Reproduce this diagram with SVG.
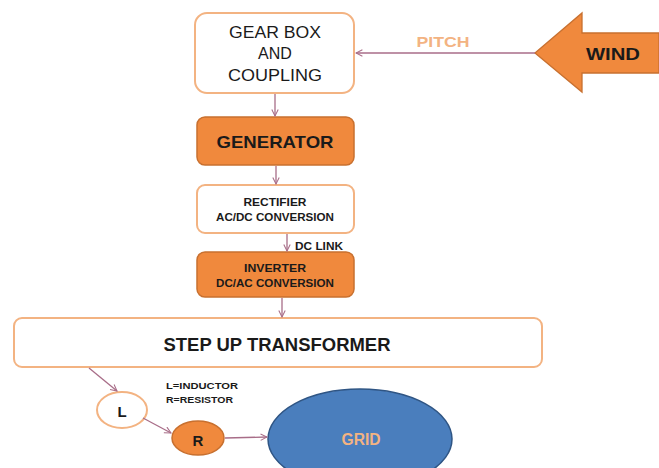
<svg xmlns="http://www.w3.org/2000/svg" width="659" height="468" viewBox="0 0 659 468">
<defs>
<marker id="arr" viewBox="0 0 10 10" refX="9" refY="5" markerWidth="8" markerHeight="8" orient="auto" markerUnits="userSpaceOnUse">
<path d="M1,1 L9,5 L1,9" fill="none" stroke="#a86d88" stroke-width="1.3"/>
</marker>
<style>
.wbox{fill:#ffffff;stroke:#f3b382;stroke-width:2}
.obox{fill:#f0893d;stroke:#c8702f;stroke-width:1.5}
.t{font-family:"Liberation Sans",Arial,sans-serif;fill:#1a1a1a;text-anchor:middle;dominant-baseline:central}
.b{font-weight:bold}
.con line{stroke:#a86d88;stroke-width:1.3;marker-end:url(#arr)}
</style>
</defs>
<rect width="659" height="468" fill="#ffffff"/>

<g id="wind">
<path d="M535,53 L582,13 L582,33 L659,33 L659,73 L582,73 L582,92 Z" fill="#f0893d" stroke="#c8702f" stroke-width="1.3"/>
<text class="t b" x="613" y="54" font-size="16" textLength="54" lengthAdjust="spacingAndGlyphs">WIND</text>
</g>

<g id="gearbox">
<rect class="wbox" x="195" y="13" width="159" height="80" rx="12"/>
<text class="t" x="275" y="32" font-size="16" textLength="92" lengthAdjust="spacingAndGlyphs">GEAR BOX</text>
<text class="t" x="275" y="53" font-size="16">AND</text>
<text class="t" x="275" y="75" font-size="16" textLength="94" lengthAdjust="spacingAndGlyphs">COUPLING</text>
</g>

<g id="generator">
<rect class="obox" x="197" y="117" width="157" height="48" rx="8"/>
<text class="t b" x="275" y="142" font-size="17" textLength="117" lengthAdjust="spacingAndGlyphs">GENERATOR</text>
</g>

<g id="rectifier">
<rect class="wbox" x="197" y="185" width="157" height="48" rx="8"/>
<text class="t b" x="275" y="202" font-size="11" textLength="63" lengthAdjust="spacingAndGlyphs">RECTIFIER</text>
<text class="t b" x="275" y="217" font-size="11.5" textLength="118" lengthAdjust="spacingAndGlyphs">AC/DC CONVERSION</text>
</g>

<g id="inverter">
<rect class="obox" x="197" y="252" width="157" height="45" rx="8"/>
<text class="t b" x="275" y="268" font-size="11" textLength="62" lengthAdjust="spacingAndGlyphs">INVERTER</text>
<text class="t b" x="275" y="283" font-size="11.5" textLength="118" lengthAdjust="spacingAndGlyphs">DC/AC CONVERSION</text>
</g>

<g id="transformer">
<rect class="wbox" x="14" y="318" width="528" height="49" rx="8"/>
<text class="t b" x="277" y="345" font-size="18" textLength="227" lengthAdjust="spacingAndGlyphs">STEP UP TRANSFORMER</text>
</g>

<g id="inductor">
<ellipse cx="122" cy="410" rx="25" ry="18" fill="#ffffff" stroke="#f3b382" stroke-width="2"/>
<text class="t b" x="122" y="411" font-size="15">L</text>
</g>

<g id="resistor">
<ellipse cx="198" cy="438" rx="26" ry="17" fill="#f0893d" stroke="#c8702f" stroke-width="1.5"/>
<text class="t b" x="198" y="440" font-size="15">R</text>
</g>

<g id="grid">
<ellipse cx="360" cy="439" rx="92" ry="50" fill="#4a7ebd" stroke="#2f5584" stroke-width="1.5"/>
<text class="t b" x="361" y="439" font-size="16" fill="#f3b382" style="fill:#f3b382" textLength="39" lengthAdjust="spacingAndGlyphs">GRID</text>
</g>

<g id="labels">
<text class="t b" x="443" y="42" font-size="14" style="fill:#f3b382" textLength="53" lengthAdjust="spacingAndGlyphs">PITCH</text>
<text class="t b" x="319" y="246" font-size="10" textLength="48" lengthAdjust="spacingAndGlyphs">DC LINK</text>
<text class="t b" x="166" y="385" font-size="9.5" style="text-anchor:start" textLength="72" lengthAdjust="spacingAndGlyphs">L=INDUCTOR</text>
<text class="t b" x="166" y="399" font-size="9.5" style="text-anchor:start" textLength="67" lengthAdjust="spacingAndGlyphs">R=RESISTOR</text>
</g>

<g id="connectors" class="con">
<line x1="535" y1="53" x2="356" y2="53"/>
<line x1="275" y1="94" x2="275" y2="116"/>
<line x1="276" y1="166" x2="276" y2="184"/>
<line x1="287" y1="234" x2="287" y2="251"/>
<line x1="282" y1="298" x2="282" y2="317"/>
<line x1="89" y1="368" x2="117" y2="391"/>
<line x1="143" y1="418" x2="171" y2="433"/>
<line x1="225" y1="438" x2="267" y2="437"/>
</g>
</svg>
